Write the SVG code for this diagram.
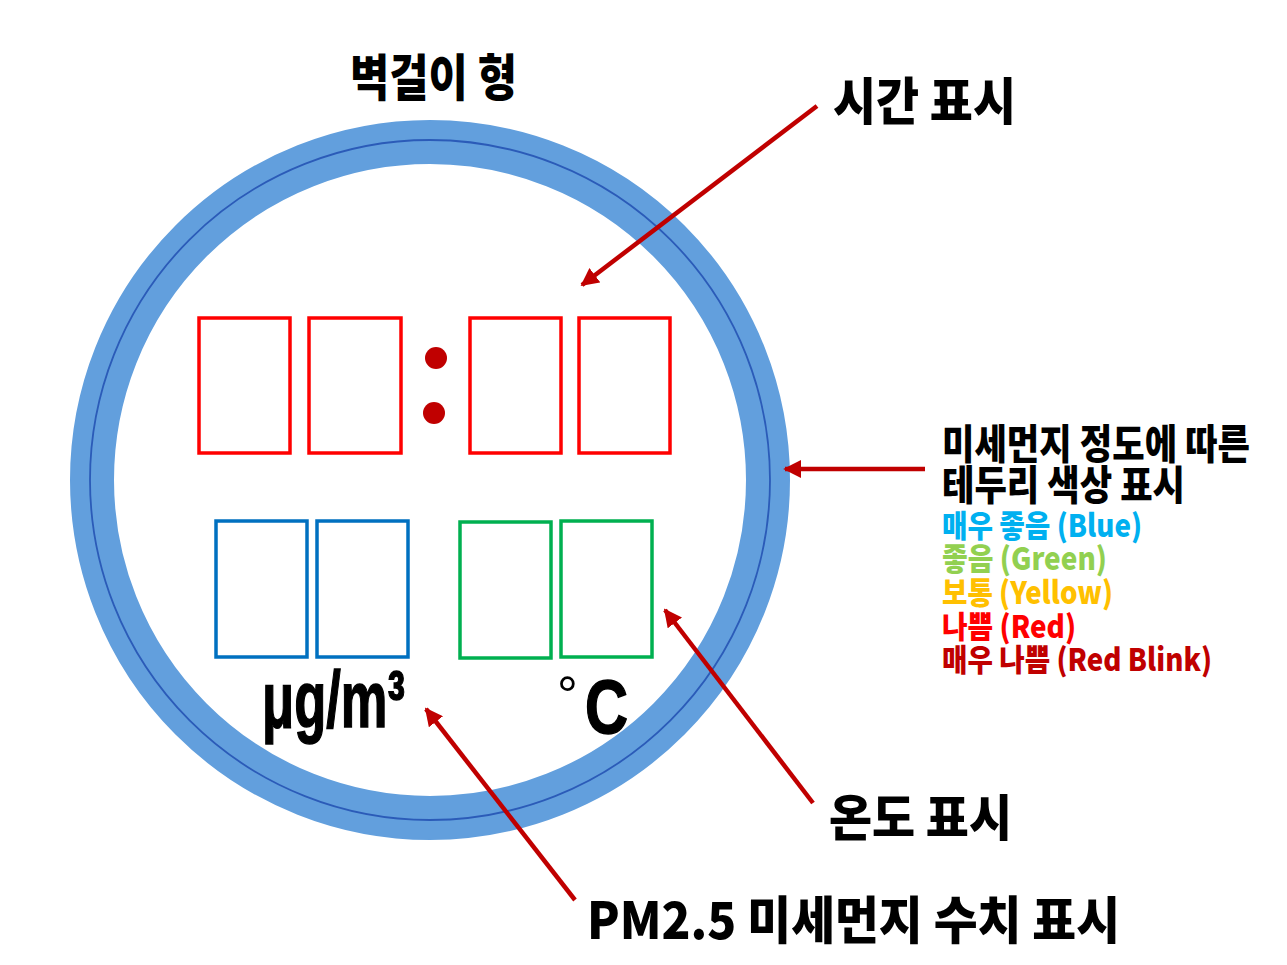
<svg xmlns="http://www.w3.org/2000/svg" width="1287" height="965" viewBox="0 0 1287 965">
<style>
.h{font-family:"Noto Sans CJK KR","Noto Sans",sans-serif;font-weight:900;fill:#000}
.c{font-family:"Noto Sans CJK KR","Noto Sans",sans-serif;font-weight:900;font-size:31px}
.u{font-family:"Liberation Sans",Arial,sans-serif;font-weight:bold;fill:#000}
.red{fill:none;stroke:#FF0000;stroke-width:3.5}
.blu{fill:none;stroke:#0070C0;stroke-width:3.5}
.grn{fill:none;stroke:#00B050;stroke-width:3.5}
.arr{stroke:#C00000;stroke-width:4.5;fill:none;marker-end:url(#ah)}
</style>
<defs>
<marker id="ah" viewBox="0 0 10 10" refX="9" refY="5" markerWidth="4" markerHeight="4" orient="auto" markerUnits="strokeWidth">
<path d="M0,0 L10,5 L0,10 z" fill="#C00000"/>
</marker>
</defs>
<rect width="1287" height="965" fill="#fff"/>
<g id="title"><text class="h" x="350" y="96" font-size="50" textLength="167" lengthAdjust="spacingAndGlyphs">벽걸이 형</text></g>
<g id="ring">
<circle cx="430" cy="480" r="338" fill="none" stroke="#629FDD" stroke-width="44"/>
<circle cx="430" cy="480" r="340" fill="none" stroke="#2B5BB8" stroke-width="1.8"/>
</g>
<g id="time-display">
<rect class="red" x="199" y="318" width="91" height="135"/>
<rect class="red" x="309" y="318" width="92" height="135"/>
<circle cx="436" cy="358" r="11" fill="#C00000"/>
<circle cx="434" cy="413" r="11" fill="#C00000"/>
<rect class="red" x="470" y="318" width="91" height="135"/>
<rect class="red" x="579" y="318" width="91" height="135"/>
</g>
<g id="pm-display">
<rect class="blu" x="216" y="521" width="91" height="136"/>
<rect class="blu" x="317" y="521" width="91" height="136"/>
<text class="u" x="262" y="727" font-size="80" textLength="143" lengthAdjust="spacingAndGlyphs" stroke="#000" stroke-width="1.5">μg/m³</text>
</g>
<g id="temp-display">
<rect class="grn" x="460" y="522" width="91" height="136"/>
<rect class="grn" x="561" y="521" width="91" height="136"/>
<text x="557" y="713" font-family="Liberation Sans,Arial,sans-serif" font-size="52" fill="#000">°</text>
<text class="u" x="585" y="733" font-size="76" textLength="43" lengthAdjust="spacingAndGlyphs" stroke="#000" stroke-width="1.5">C</text>
</g>
<g id="label-time"><text class="h" x="833" y="120" font-size="51" textLength="183" lengthAdjust="spacingAndGlyphs">시간 표시</text></g>
<g id="label-border">
<text class="h" x="942" y="459" font-size="41" textLength="308" lengthAdjust="spacingAndGlyphs">미세먼지 정도에 따른</text>
<text class="h" x="942" y="500" font-size="41" textLength="243" lengthAdjust="spacingAndGlyphs">테두리 색상 표시</text>
<text class="c" x="942" y="537" fill="#00B0F0" textLength="200" lengthAdjust="spacingAndGlyphs">매우 좋음 (Blue)</text>
<text class="c" x="942" y="570" fill="#92D050" textLength="165" lengthAdjust="spacingAndGlyphs">좋음 (Green)</text>
<text class="c" x="942" y="604" fill="#FFC000" textLength="171" lengthAdjust="spacingAndGlyphs">보통 (Yellow)</text>
<text class="c" x="942" y="638" fill="#FF0000" textLength="134" lengthAdjust="spacingAndGlyphs">나쁨 (Red)</text>
<text class="c" x="942" y="671" fill="#C00000" textLength="270" lengthAdjust="spacingAndGlyphs">매우 나쁨 (Red Blink)</text>
</g>
<g id="label-temp"><text class="h" x="829" y="836" font-size="50" textLength="183" lengthAdjust="spacingAndGlyphs">온도 표시</text></g>
<g id="label-pm"><text class="h" x="587" y="939" font-size="51" textLength="533" lengthAdjust="spacingAndGlyphs">PM2.5 미세먼지 수치 표시</text></g>
<g id="connectors">
<line class="arr" x1="817" y1="106" x2="582" y2="285"/>
<line class="arr" x1="925" y1="469" x2="785" y2="469"/>
<line class="arr" x1="813" y1="803" x2="665" y2="610"/>
<line class="arr" x1="575" y1="900" x2="426" y2="709"/>
</g>
</svg>
